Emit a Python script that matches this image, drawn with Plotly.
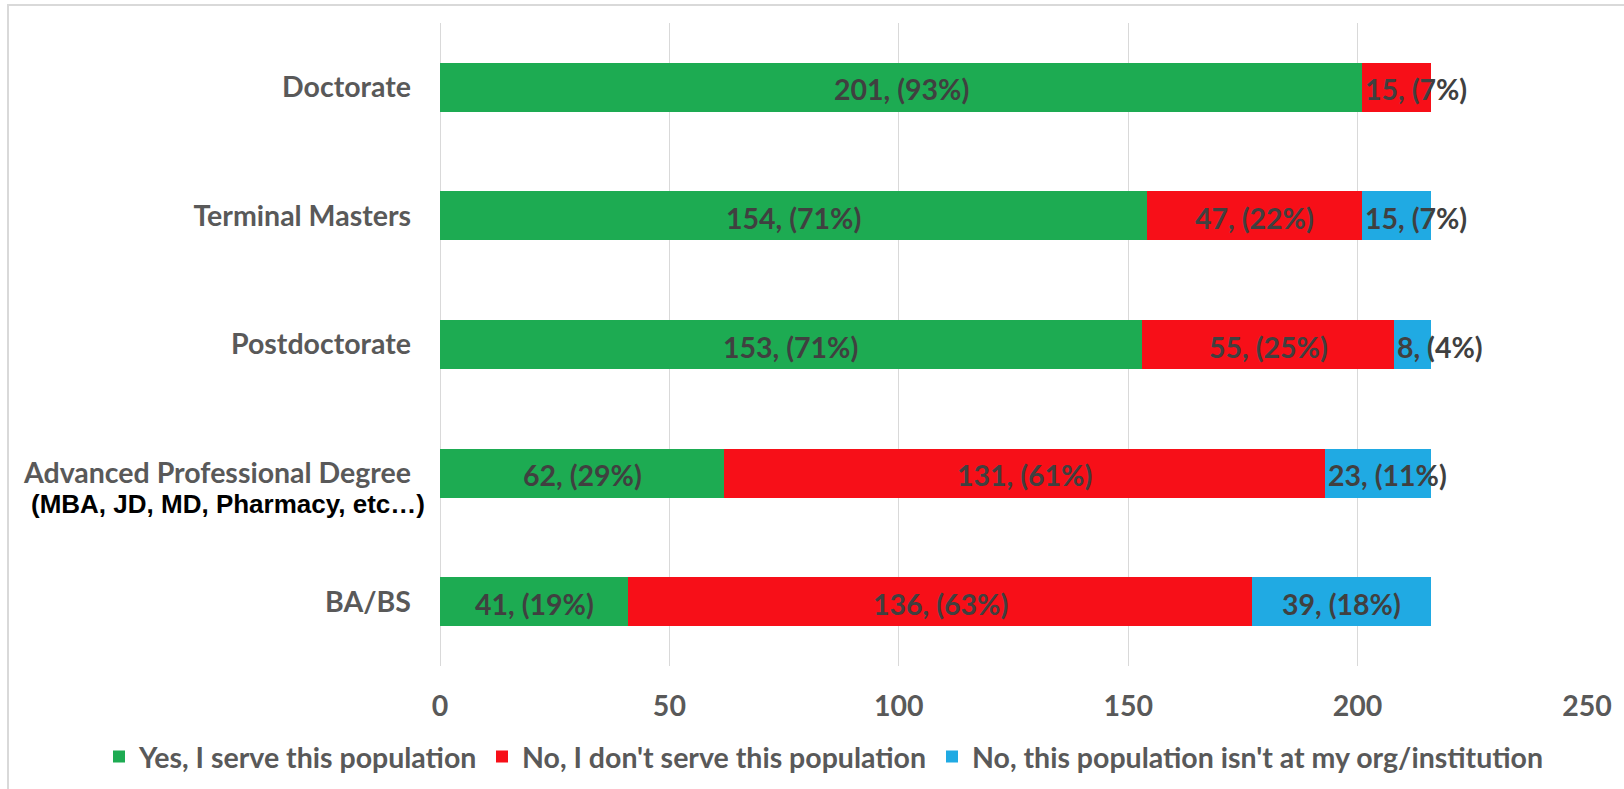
import plotly.graph_objects as go

# Categories listed top to bottom
categories = ["Doctorate", "Terminal Masters", "Postdoctorate",
              "Advanced Professional Degree", "BA/BS"]
series_names = ["Yes, I serve this population",
                "No, I don't serve this population",
                "No, this population isn't at my org/institution"]
yes_vals = [201, 154, 153, 62, 41]
no_vals = [15, 47, 55, 131, 136]
absent_vals = [0, 15, 8, 23, 39]
x_ticks = [0, 50, 100, 150, 200, 250]
sub_label = "(MBA, JD, MD, Pharmacy, etc\u2026)"

colors = ["#1DAB52", "#F70F18", "#20AAE3"]
label_font = dict(family="Lato", size=28.5, color="#404040", weight=700)
axis_font = dict(family="Lato", size=28.5, color="#595959", weight=700)

W, H = 1624, 789
L, R, T, B = 440, 37, 23, 123
PW, PH = W - L - R, H - T - B
px_per_unit = PW / 250

# One legend box per series, laid out along the bottom row
legend_ids = ["legend", "legend2", "legend3"]
legend_left_px = [99, 482, 932]

fig = go.Figure()
all_series = [yes_vals, no_vals, absent_vals]
for name, vals, col, lid in zip(series_names, all_series, colors, legend_ids):
    fig.add_trace(go.Bar(
        y=categories, x=vals, name=name, orientation="h",
        marker=dict(color=col, line=dict(width=0)),
        hoverinfo="skip", legend=lid,
    ))

# Data labels: "count, (pct%)" centred in each segment, left-aligned when it does not fit
annotations = []
for i, cat in enumerate(categories):
    total = sum(s[i] for s in all_series)
    base = 0
    for vals in all_series:
        v = vals[i]
        if v > 0:
            text = f"{v}, ({round(v / total * 100)}%)"
            est_w = len(text) * 13.5
            if est_w > v * px_per_unit:
                annotations.append(dict(x=base, y=cat, xref="x", yref="y", text=text,
                                        showarrow=False, xanchor="left", xshift=1,
                                        yshift=-2, font=label_font))
            else:
                annotations.append(dict(x=base + v / 2, y=cat, xref="x", yref="y", text=text,
                                        showarrow=False, xanchor="center",
                                        yshift=-2, font=label_font))
        base += v

# Second line of the professional-degree category label
annotations.append(dict(x=(427 - L) / PW, y=categories[3], xref="paper", yref="y",
                        text=sub_label, showarrow=False, xanchor="right", yshift=-31,
                        font=dict(family="Liberation Sans", size=26, color="#000000",
                                  weight=700)))

legend_common = dict(orientation="h", xref="container", yref="container",
                     xanchor="left", y=1 - 757 / H, yanchor="middle",
                     font=axis_font, itemclick=False, bgcolor="rgba(0,0,0,0)",
                     borderwidth=0)
legends = {lid: dict(legend_common, x=px / W) for lid, px in zip(legend_ids, legend_left_px)}

fig.update_layout(
    width=W, height=H,
    margin=dict(l=L, r=R, t=T, b=B, pad=0, autoexpand=False),
    barmode="stack", bargap=0.62,
    plot_bgcolor="white", paper_bgcolor="white",
    showlegend=True,
    annotations=annotations,
    shapes=[dict(type="rect", xref="paper", yref="paper",
                 x0=(8 - L) / PW, x1=(W + 10 - L) / PW,
                 y0=(H - B - (H + 10)) / PH, y1=(H - B - 5) / PH,
                 line=dict(color="#D9D9D9", width=2), fillcolor="rgba(0,0,0,0)",
                 layer="below")],
    **legends,
)
fig.update_xaxes(range=[0, 250], tickvals=x_ticks, showgrid=True, gridcolor="#D9D9D9",
                 gridwidth=1, zeroline=True, zerolinecolor="#D9D9D9", zerolinewidth=1,
                 showline=False, tickfont=axis_font,
                 ticklabelstandoff=20, fixedrange=True, automargin=False)
fig.update_yaxes(categoryorder="array", categoryarray=categories, autorange="reversed",
                 showgrid=False, zeroline=False, showline=False, tickfont=axis_font,
                 ticklabelstandoff=28, fixedrange=True, automargin=False)

fig.write_html("out.html", config={"displayModeBar": False})
